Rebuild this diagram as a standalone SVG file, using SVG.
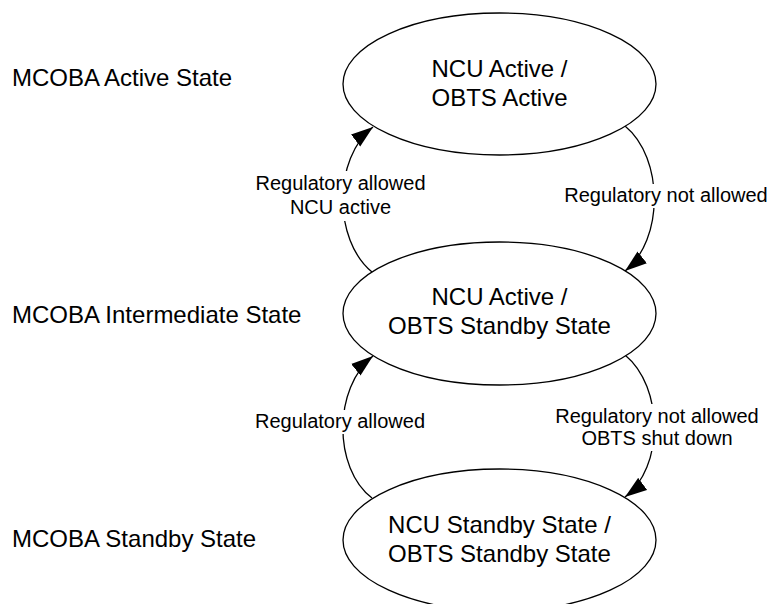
<svg xmlns="http://www.w3.org/2000/svg" width="771" height="604" viewBox="0 0 771 604">
<style>
.st{fill:#fff;stroke:#000;stroke-width:1.3}
.t{font-family:"Liberation Sans",Arial,sans-serif;font-size:24px;fill:#000}
.m{text-anchor:middle}
.e{font-family:"Liberation Sans",Arial,sans-serif;font-size:20px;fill:#000;text-anchor:middle}
.c{fill:none;stroke:#000;stroke-width:1.3}
.bg{fill:#fff;stroke:none}
</style>
<defs>
<marker id="arr" markerUnits="userSpaceOnUse" markerWidth="23" markerHeight="16" refX="22" refY="8" orient="auto">
<path d="M0,0.5 L22,8 L0,15.5 z" fill="#000"/>
</marker>
</defs>
<rect width="771" height="604" fill="#fff"/>
<g id="side-labels">
<text class="t" x="12" y="86">MCOBA Active State</text>
<text class="t" x="12" y="323">MCOBA Intermediate State</text>
<text class="t" x="12" y="547">MCOBA Standby State</text>
</g>
<g id="connectors">
<path class="c" d="M372,272 C333,240 333,158 373,127" marker-end="url(#arr)"/>
<path class="c" d="M625,126 C664,158 664,240 625,271" marker-end="url(#arr)"/>
<path class="c" d="M372,498 C333,468 333,388 373,356" marker-end="url(#arr)"/>
<path class="c" d="M625,355 C664,387 664,468 625,497" marker-end="url(#arr)"/>
<g id="edge-labels">
<rect class="bg" x="253" y="171" width="176" height="50"/>
<text class="e" x="340.5" y="190">Regulatory allowed</text>
<text class="e" x="340.5" y="214">NCU active</text>
<rect class="bg" x="562" y="184" width="208" height="24"/>
<text class="e" x="666" y="202">Regulatory not allowed</text>
<rect class="bg" x="252" y="410" width="177" height="24"/>
<text class="e" x="340" y="428">Regulatory allowed</text>
<rect class="bg" x="552" y="404" width="210" height="47"/>
<text class="e" x="657" y="423">Regulatory not allowed</text>
<text class="e" x="657" y="445">OBTS shut down</text>
</g>
</g>
<g id="node-active">
<ellipse class="st" cx="499.5" cy="84" rx="156.5" ry="71"/>
<text class="t m" x="499.5" y="77">NCU Active /</text>
<text class="t m" x="499.5" y="106">OBTS Active</text>
</g>
<g id="node-intermediate">
<ellipse class="st" cx="499.5" cy="313.5" rx="156.5" ry="71.5"/>
<text class="t m" x="499.5" y="305">NCU Active /</text>
<text class="t m" x="499.5" y="334">OBTS Standby State</text>
</g>
<g id="node-standby">
<ellipse class="st" cx="499.5" cy="540" rx="156.5" ry="71"/>
<text class="t m" x="499.5" y="533">NCU Standby State /</text>
<text class="t m" x="499.5" y="562">OBTS Standby State</text>
</g>
</svg>
